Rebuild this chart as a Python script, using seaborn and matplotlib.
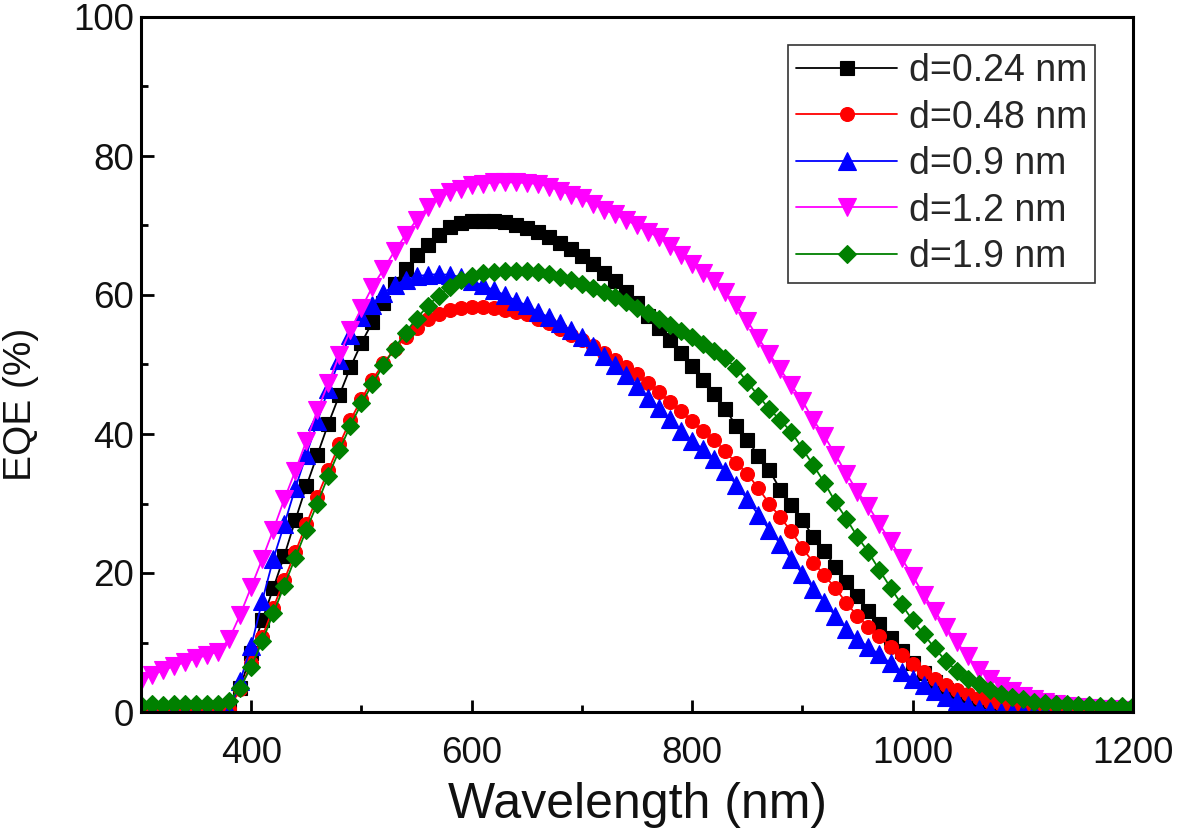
import matplotlib
matplotlib.use("Agg")
import matplotlib.pyplot as plt
import numpy as np
import pandas as pd
import seaborn as sns
from matplotlib.ticker import MultipleLocator

wavelength = list(range(300, 1201, 10))

eqe_024 = [0, 0, 0, 0, 0, 0, 0, 0.1, 0.6, 3.5,
           8.5, 13.2, 17.8, 22.5, 27.6, 32.5, 37.0, 41.5, 45.6, 49.6,
           53.1, 56.1, 58.9, 61.6, 63.8, 65.7, 67.2, 68.7, 69.8, 70.3,
           70.6, 70.7, 70.7, 70.5, 70.1, 69.6, 69.0, 68.4, 67.5, 66.6,
           65.6, 64.4, 63.1, 62.0, 60.4, 58.8, 57.0, 55.3, 53.5, 51.7,
           49.8, 47.7, 45.7, 43.6, 41.2, 39.2, 36.9, 34.8, 32.0, 29.8,
           27.6, 25.2, 23.2, 20.9, 18.7, 16.7, 14.6, 12.6, 10.6, 8.8,
           7.1, 5.6, 4.3, 3.2, 2.4, 1.7, 1.2, 0.8, 0.5, 0.3,
           0.2, 0.1, 0, 0, 0, 0, 0, 0, 0, 0, 0]

eqe_048 = [0, 0, 0, 0, 0, 0, 0, 0, 0.5, 3.3,
           7.0, 10.8, 15.0, 19.0, 23.0, 27.0, 31.0, 34.8, 38.5, 42.0,
           45.0, 47.8, 50.2, 52.2, 53.9, 55.3, 56.5, 57.3, 57.8, 58.1,
           58.3, 58.3, 58.2, 57.9, 57.6, 57.2, 56.6, 55.9, 55.1, 54.3,
           53.5, 52.6, 51.7, 50.7, 49.6, 48.6, 47.4, 46.1, 44.6, 43.3,
           41.8, 40.5, 39.2, 37.5, 35.8, 34.3, 32.2, 30.0, 28.0, 26.0,
           23.6, 21.5, 19.7, 17.8, 15.7, 13.8, 12.2, 11.0, 9.4, 8.2,
           6.9, 5.8, 4.8, 3.9, 3.2, 2.6, 2.0, 1.5, 1.1, 0.8,
           0.5, 0.3, 0.2, 0.1, 0, 0, 0, 0, 0, 0, 0]

eqe_09 = [0, 0, 0, 0, 0, 0, 0, 0, 0, 4.5,
          9.5, 16.0, 22.0, 27.0, 32.2, 37.0, 41.8, 46.5, 50.6, 54.2,
          56.8, 58.6, 60.3, 61.4, 62.2, 62.7, 62.9, 63.0, 62.9, 62.6,
          62.0, 61.4, 60.7, 60.0, 59.2, 58.5, 57.6, 56.8, 55.9, 54.9,
          53.9, 52.6, 51.2, 49.9, 48.5, 46.9, 45.2, 43.7, 42.1, 40.5,
          39.0, 37.8, 36.4, 34.7, 32.7, 30.6, 28.4, 26.2, 24.2, 22.0,
          19.9, 17.7, 15.8, 13.8, 12.0, 10.5, 9.3, 8.3, 7.0, 5.8,
          4.8, 3.9, 3.0, 2.2, 1.6, 1.0, 0.5, 0.2, 0, 0,
          0, 0, 0, 0, 0, 0, 0, 0, 0, 0.5, 0.9]

eqe_12 = [4.5, 5.3, 6.0, 6.6, 7.2, 7.7, 8.2, 8.7, 10.5, 14.0,
          18.0, 22.0, 26.2, 30.6, 34.7, 39.0, 43.4, 47.3, 51.4, 54.9,
          58.1, 61.2, 63.7, 66.3, 68.6, 70.8, 72.6, 73.9, 74.8, 75.3,
          75.8, 76.0, 76.2, 76.2, 76.2, 76.1, 76.0, 75.6, 75.0, 74.4,
          73.9, 73.1, 72.3, 71.6, 70.8, 70.0, 69.1, 68.3, 67.1, 65.8,
          64.5, 63.2, 62.0, 60.4, 58.5, 56.3, 53.8, 51.5, 49.3, 47.0,
          44.8, 42.0, 39.7, 37.0, 34.3, 31.7, 29.6, 27.0, 24.6, 22.1,
          19.6, 16.9, 14.5, 12.3, 10.1, 8.0, 6.1, 4.8, 3.8, 3.0,
          2.3, 1.8, 1.4, 1.1, 0.9, 0.7, 0.6, 0.5, 0.4, 0.3, 0.3]

eqe_19 = [1.0, 1.2, 1.0, 1.2, 1.1, 1.2, 1.1, 1.2, 1.6, 3.5,
          6.5, 10.2, 14.2, 18.2, 22.2, 26.2, 30.0, 34.0, 37.7, 41.2,
          44.4, 47.2, 49.9, 52.3, 54.6, 56.6, 58.4, 59.9, 61.2, 62.1,
          62.7, 63.1, 63.3, 63.4, 63.5, 63.5, 63.3, 63.0, 62.6, 62.1,
          61.6, 61.0, 60.4, 59.7, 59.0, 58.2, 57.4, 56.6, 55.7, 54.8,
          54.0, 53.0, 52.0, 50.9, 49.5, 47.5, 45.5, 43.6, 42.0, 40.3,
          37.9, 35.5, 33.0, 30.2, 27.8, 25.2, 23.0, 20.4, 17.9, 15.5,
          13.2, 11.2, 9.2, 7.4, 5.9, 4.8, 4.0, 3.2, 2.6, 2.1,
          1.8, 1.5, 1.3, 1.2, 1.1, 1.0, 1.0, 0.9, 0.9, 0.8, 0.8]

labels = ["d=0.24 nm", "d=0.48 nm", "d=0.9 nm", "d=1.2 nm", "d=1.9 nm"]
series = [eqe_024, eqe_048, eqe_09, eqe_12, eqe_19]
colors = ["#000000", "#FF0000", "#0000FF", "#FF00FF", "#008000"]
markers = ["s", "o", "^", "v", "D"]
msizes = [10.5, 10.0, 13.5, 13.5, 9.5]

sns.set_style("ticks")
plt.rcParams["font.family"] = ["Liberation Sans", "DejaVu Sans"]

fig = plt.figure(figsize=(11.81, 8.38), dpi=100)
ax = fig.add_axes([141 / 1181, 1 - 712 / 838, (1133 - 141) / 1181, (712 - 17) / 838])

for lab, vals, col, mk, ms in zip(labels, series, colors, markers, msizes):
    df = pd.DataFrame({"Wavelength": wavelength, "EQE": vals})
    sns.lineplot(data=df, x="Wavelength", y="EQE", ax=ax, color=col,
                 marker=mk, markersize=ms, markeredgecolor=col,
                 markeredgewidth=0.8, linewidth=1.3, label=lab)

ax.set_xlim(300, 1200)
ax.set_ylim(0, 100)
ax.xaxis.set_major_locator(MultipleLocator(200))
ax.xaxis.set_minor_locator(MultipleLocator(100))
ax.yaxis.set_major_locator(MultipleLocator(20))
ax.yaxis.set_minor_locator(MultipleLocator(10))

for s in ax.spines.values():
    s.set_visible(True)
    s.set_linewidth(2.2)
    s.set_color("black")

ax.tick_params(axis="both", which="major", direction="in", length=9,
               width=2, labelsize=26.5, top=False, right=False,
               color="black", labelcolor="#111111")
ax.tick_params(axis="both", which="minor", direction="in", length=5,
               width=2, top=False, right=False, color="black")
ax.tick_params(axis="x", which="major", pad=17)
ax.tick_params(axis="y", which="major", pad=5)

ax.set_xlabel("Wavelength (nm)", fontsize=36, labelpad=8, color="#111111")
ax.set_ylabel("EQE (%)", fontsize=28, color="#111111")
ax.yaxis.set_label_coords(-0.103, 0.443)

leg = ax.legend(loc="upper right", bbox_to_anchor=(0.962, 0.960),
                borderaxespad=0, fontsize=27, frameon=True, fancybox=False,
                edgecolor="#333333", framealpha=1, handlelength=2.7,
                handletextpad=0.3, labelspacing=0.28, borderpad=0.22)
leg.get_frame().set_linewidth(1.2)

fig.savefig("out.png", dpi=100)
